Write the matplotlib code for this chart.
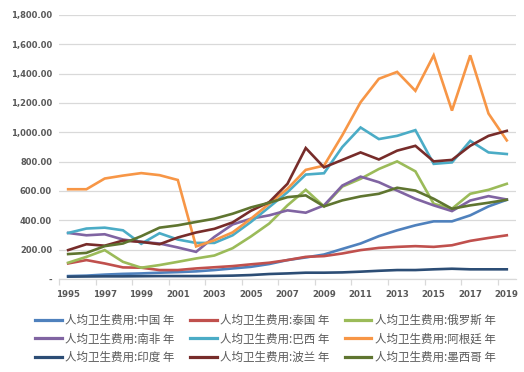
import numpy as np
import matplotlib
matplotlib.use("Agg")
from matplotlib import pyplot as plt

plt.rcParams['font.family'] = ['Noto Sans CJK SC', 'DejaVu Sans']

years = list(range(1995, 2020))

china = [20, 23, 30, 35, 38, 43, 47, 52, 61, 72, 83, 102, 129, 147, 167, 205, 242, 292, 332, 366, 393, 393, 434, 495, 540]
thailand = [106, 129, 106, 79, 77, 61, 61, 72, 80, 88, 100, 111, 129, 151, 156, 174, 197, 212, 219, 224, 219, 230, 260, 280, 298]
russia = [111, 151, 197, 117, 77, 95, 117, 140, 160, 210, 290, 378, 502, 608, 495, 630, 683, 750, 802, 734, 513, 479, 581, 608, 649]
south_africa = [314, 298, 305, 269, 253, 242, 215, 185, 287, 372, 411, 434, 468, 452, 502, 637, 698, 660, 603, 547, 502, 463, 535, 565, 542]
brazil = [314, 344, 350, 332, 240, 312, 269, 246, 246, 298, 389, 490, 592, 712, 721, 900, 1033, 954, 976, 1015, 785, 795, 942, 863, 852]
argentina = [612, 612, 685, 705, 722, 708, 675, 222, 264, 318, 411, 513, 615, 744, 773, 980, 1205, 1365, 1412, 1283, 1525, 1148, 1525, 1128, 945]
india = [16, 17, 18, 18, 19, 20, 20, 20, 21, 23, 27, 34, 38, 43, 43, 45, 50, 56, 61, 61, 66, 70, 66, 66, 66]
poland = [197, 237, 227, 262, 253, 237, 283, 317, 342, 386, 465, 524, 649, 893, 761, 812, 863, 815, 875, 908, 802, 812, 908, 976, 1010]
mexico = [170, 178, 224, 242, 292, 350, 366, 389, 411, 445, 488, 520, 558, 570, 495, 536, 563, 581, 622, 603, 547, 479, 502, 520, 540]

labels = ["人均卫生费用:中国 年", "人均卫生费用:泰国 年", "人均卫生费用:俄罗斯 年",
          "人均卫生费用:南非 年", "人均卫生费用:巴西 年", "人均卫生费用:阿根廷 年",
          "人均卫生费用:印度 年", "人均卫生费用:波兰 年", "人均卫生费用:墨西哥 年"]
series = [china, thailand, russia, south_africa, brazil, argentina, india, poland, mexico]
colors = ["#4F81BD", "#C0504D", "#9BBB59", "#8064A2", "#4BACC6", "#F79646",
          "#2C4D75", "#772C2A", "#5F7530"]

fig = plt.figure(figsize=(5.24, 3.72), dpi=100)
ax = fig.add_axes([0.1126, 0.25, 0.872, 0.7097])

x = np.arange(len(years))
handles = []
for vals, lab, col in zip(series, labels, colors):
    h, = ax.plot(x, vals, color=col, lw=1.9, label=lab, solid_joinstyle='miter')
    handles.append(h)

ax.set_xlim(-0.5, len(years) - 0.5)
ax.set_ylim(0, 1800)

# y axis: gridlines, accounting style labels
yticks = np.arange(0, 1801, 200)
ax.set_yticks(yticks)
ax.set_yticklabels(["-"] + [f"{v:,.2f}" for v in yticks[1:]])
ax.grid(axis='y', color='#D9D9D9', lw=0.9)
ax.set_axisbelow(True)
ax.tick_params(axis='y', length=0, pad=5, labelsize=6.0, labelcolor='#595959')
for t in ax.get_yticklabels():
    t.set_fontweight('bold')
    t.set_family(['DejaVu Sans'])

# x axis: labels every 2 years, tick marks between categories
ax.set_xticks(x[::2])
ax.set_xticklabels([str(y) for y in years[::2]])
ax.set_xticks(np.arange(-0.5, len(years) - 0.5, 2), minor=True)
ax.tick_params(axis='x', which='major', length=0, pad=8, labelsize=6.2, labelcolor='#595959')
ax.tick_params(axis='x', which='minor', length=4, color='#D9D9D9', width=0.9)
for t in ax.get_xticklabels():
    t.set_fontweight('bold')
    t.set_family(['DejaVu Sans'])

for s in ['top', 'right', 'left']:
    ax.spines[s].set_visible(False)
ax.spines['bottom'].set_color('#D9D9D9')
ax.spines['bottom'].set_linewidth(0.9)

order = [0, 3, 6, 1, 4, 7, 2, 5, 8]
leg = fig.legend([handles[i] for i in order], [labels[i] for i in order],
                 ncol=3, loc='upper left', bbox_to_anchor=(0.067, 0.157),
                 frameon=False, fontsize=8.3, handlelength=2.3, handletextpad=0.3,
                 columnspacing=1.35, labelspacing=0.5, borderaxespad=0, borderpad=0)
for line in leg.get_lines():
    line.set_linewidth(2.3)
for t in leg.get_texts():
    t.set_color('#595959')

fig.savefig("out.png", dpi=100)
